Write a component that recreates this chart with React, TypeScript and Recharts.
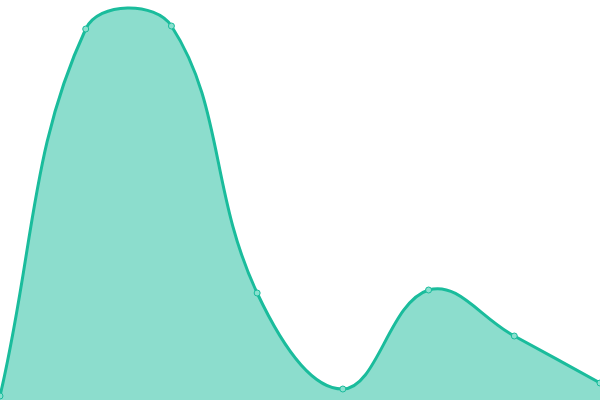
import { AreaChart, Area, XAxis, YAxis } from 'recharts';

const categories = ['A', 'B', 'C', 'D', 'E', 'F', 'G', 'H'];
const values = [4, 371, 374, 107, 11, 110, 64, 17];

const data = categories.map((name, i) => ({ name, value: values[i] }));

const WIDTH = 600;
const HEIGHT = 400;
const TENSION = 0.4;

// spline with distance-weighted control points, capped to the plot box
const tensionCurve = (context: any) => {
    let pts: number[][] = [];
    let line = NaN;
    const cap = (v: number, lo: number, hi: number) => Math.max(Math.min(v, hi), lo);
    return {
        areaStart() { line = 0; },
        areaEnd() { line = NaN; },
        lineStart() { pts = []; },
        point(x: number, y: number) { pts.push([+x, +y]); },
        lineEnd() {
            const n = pts.length;
            const cps = pts.map((cur, i) => {
                const prev = pts[Math.max(0, i - 1)];
                const next = pts[Math.min(n - 1, i + 1)];
                const d01 = Math.hypot(cur[0] - prev[0], cur[1] - prev[1]);
                const d12 = Math.hypot(next[0] - cur[0], next[1] - cur[1]);
                let s01 = d01 / (d01 + d12);
                let s12 = d12 / (d01 + d12);
                if (isNaN(s01)) s01 = 0;
                if (isNaN(s12)) s12 = 0;
                const fa = TENSION * s01;
                const fb = TENSION * s12;
                return {
                    c1x: cap(cur[0] - fa * (next[0] - prev[0]), 0, WIDTH),
                    c1y: cap(cur[1] - fa * (next[1] - prev[1]), 0, HEIGHT),
                    c2x: cap(cur[0] + fb * (next[0] - prev[0]), 0, WIDTH),
                    c2y: cap(cur[1] + fb * (next[1] - prev[1]), 0, HEIGHT),
                };
            });
            pts.forEach((p, i) => {
                if (i === 0) {
                    if (line) context.lineTo(p[0], p[1]);
                    else context.moveTo(p[0], p[1]);
                } else {
                    const a = cps[i - 1];
                    const b = cps[i];
                    context.bezierCurveTo(a.c2x, a.c2y, b.c1x, b.c1y, p[0], p[1]);
                }
            });
            if (line || (line !== 0 && n === 1)) context.closePath();
            line = 1 - line;
        },
    };
};

export default function App() {
    return (
        <div style={{ position: 'fixed', top: 0, left: 0, width: WIDTH, height: HEIGHT, background: '#fff' }}>
            <AreaChart width={WIDTH} height={HEIGHT} data={data} margin={{ top: 0, right: 0, left: 0, bottom: 0 }}>
                <XAxis dataKey="name" hide padding={{ left: 0, right: 0 }} />
                <YAxis hide domain={[0, 400]} />
                <Area
                    type={tensionCurve as any}
                    dataKey="value"
                    stroke="#1abc9c"
                    strokeWidth={3}
                    fill="#1abc9c"
                    fillOpacity={0.5}
                    dot={{ r: 3, fill: '#8ae0cf', stroke: '#1abc9c', strokeWidth: 1, fillOpacity: 1 }}
                    activeDot={false}
                    isAnimationActive={false}
                />
            </AreaChart>
        </div>
    );
}
